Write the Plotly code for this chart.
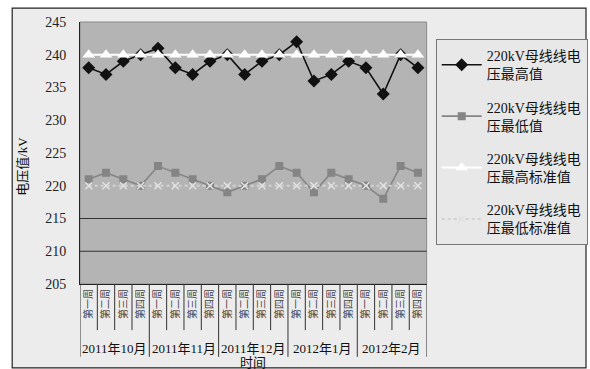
import plotly.graph_objects as go

# Weekly 220kV bus voltage, Oct 2011 – Feb 2012
months = ["2011年10月", "2011年11月", "2011年12月", "2012年1月", "2012年2月"]
weeks = ["第一周", "第二周", "第三周", "第四周"]
v_max = [238, 237, 239, 240, 241, 238, 237, 239, 240, 237,
         239, 240, 242, 236, 237, 239, 238, 234, 240, 238]
v_min = [221, 222, 221, 220, 223, 222, 221, 220, 219, 220,
         221, 223, 222, 219, 222, 221, 220, 218, 223, 222]
std_high = [240] * 20
std_low = [220] * 20
y_ticks = [205, 210, 215, 220, 225, 230, 235, 240, 245]
grid_vals = [210, 215]

cats = [f"{m}-{w}" for m in months for w in weeks]
week_text = [w for m in months for w in weeks]

FONT = "Liberation Serif, Noto Sans CJK SC, serif"

fig = go.Figure()
fig.add_trace(go.Scatter(
    x=cats, y=v_max, mode="lines+markers", name="220kV母线线电<br>压最高值",
    legendgroup="a",
    line=dict(color="#111111", width=1.6),
    marker=dict(symbol="diamond", size=10, color="#111111")))
fig.add_trace(go.Scatter(
    x=cats, y=v_min, mode="lines+markers", name="220kV母线线电<br>压最低值",
    legendgroup="b",
    line=dict(color="#858585", width=1.6),
    marker=dict(symbol="square", size=8, color="#858585")))
fig.add_trace(go.Scatter(
    x=cats, y=std_high, mode="lines+markers", name="220kV母线线电<br>压最高标准值",
    legendgroup="c",
    line=dict(color="#ffffff", width=2),
    marker=dict(symbol="triangle-up", size=11, color="#ffffff")))
fig.add_trace(go.Scatter(
    x=cats, y=std_low, mode="lines+markers", name="220kV母线线电<br>压最低标准值",
    legendgroup="d",
    line=dict(color="#d2d2d2", width=2, dash="dot"),
    marker=dict(symbol="x-thin", size=7, color="#e2e2e2",
                line=dict(color="#e2e2e2", width=1.5))))

shapes = []
# chart frame
shapes.append(dict(type="rect", xref="paper", yref="paper",
                   x0=-0.134, x1=1.0, y0=-0.32, y1=1.053,
                   fillcolor="#ececec", line=dict(color="#222222", width=1.2),
                   layer="below"))
# plot area fill
shapes.append(dict(type="rect", xref="x domain", yref="y domain",
                   x0=0, x1=1, y0=0, y1=1,
                   fillcolor="#b4b4b4", line=dict(color="#8a8a8a", width=1),
                   layer="below"))
# horizontal grid lines
for g in grid_vals:
    shapes.append(dict(type="line", xref="x domain", yref="y", x0=0, x1=1,
                       y0=g, y1=g, line=dict(color="#333333", width=1)))
# category dividers under the axis
for i in range(21):
    deep = i % 4 == 0
    shapes.append(dict(type="line", xref="x", yref="paper",
                       x0=i - 0.5, x1=i - 0.5, y0=0,
                       y1=-0.278 if deep else -0.176,
                       line=dict(color="#333333", width=1)))

annotations = []
for k, m in enumerate(months):
    annotations.append(dict(x=4 * k + 1.5, y=-0.245, xref="x", yref="paper",
                            text=m, showarrow=False, yanchor="middle",
                            font=dict(family=FONT, size=13, color="#111111")))
annotations.append(dict(x=0.5, y=-0.298, xref="x domain", yref="paper",
                        text="时间", showarrow=False, yanchor="middle",
                        font=dict(family=FONT, size=13, color="#111111")))
annotations.append(dict(x=-0.134, y=0.45, xref="paper", yref="paper",
                        text="电压值/kV", textangle=-90, showarrow=False,
                        xanchor="left",
                        font=dict(family=FONT, size=13, color="#111111")))

fig.update_layout(
    width=590, height=369,
    margin=dict(l=80, r=2, t=22, b=85),
    paper_bgcolor="#ffffff",
    plot_bgcolor="#b4b4b4",
    font=dict(family=FONT, color="#111111"),
    showlegend=True,
    legend=dict(x=0.703, y=0.935, xanchor="left", yanchor="top",
                bgcolor="#e8e8e8", bordercolor="#777777", borderwidth=1,
                font=dict(family=FONT, size=14, color="#111111"),
                tracegroupgap=12, itemwidth=40),
    shapes=shapes,
    annotations=annotations,
)
fig.update_xaxes(
    type="category", range=[-0.5, 19.5], domain=[0, 0.685],
    tickmode="array", tickvals=cats, ticktext=week_text,
    tickangle=-90, tickfont=dict(family=FONT, size=10, color="#444444"),
    showgrid=False, showline=True, linecolor="#222222", linewidth=1,
    mirror=False, ticks="", zeroline=False)
fig.update_yaxes(
    range=[205, 245], tickvals=y_ticks,
    tickfont=dict(family=FONT, size=14, color="#222222"),
    showgrid=False, showline=True, linecolor="#222222", linewidth=1,
    ticks="", ticklabelstandoff=10, zeroline=False)

fig.write_html("out.html")
